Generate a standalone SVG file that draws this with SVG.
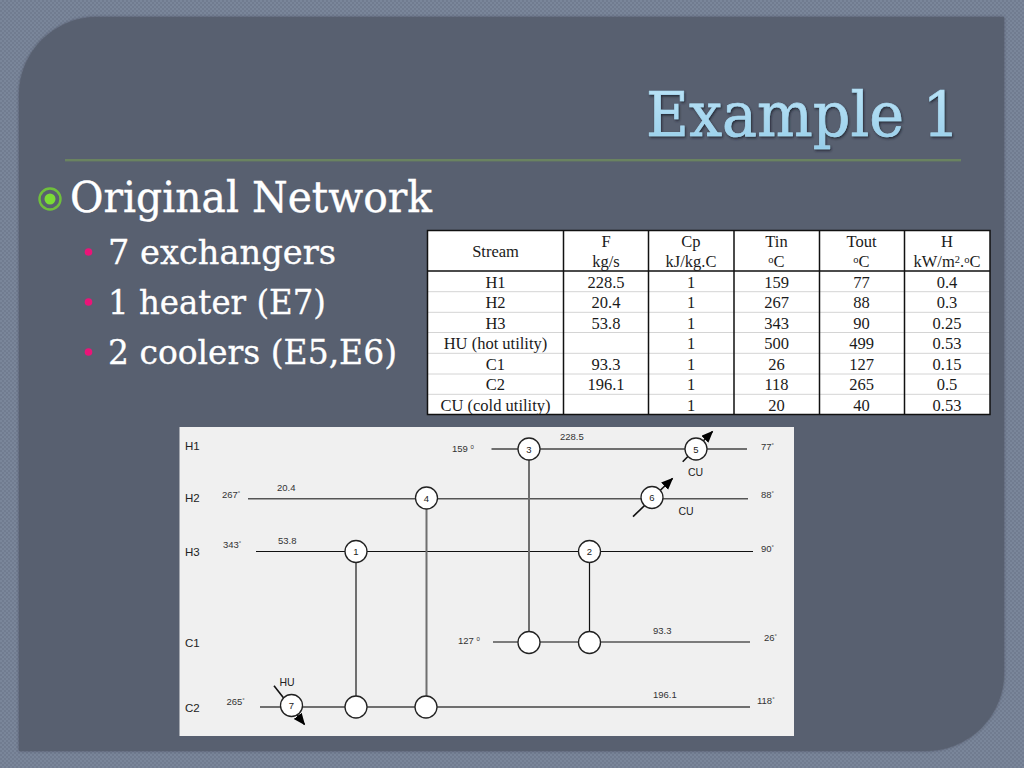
<svg xmlns="http://www.w3.org/2000/svg" width="1024" height="768" viewBox="0 0 1024 768">
<style>
.ttl{font-family:"DejaVu Serif",serif;font-size:62px;fill:url(#tg);stroke:#a9d9f1;stroke-width:0.7;filter:url(#ts)}
.b1{font-family:"DejaVu Serif",serif;font-size:42px;fill:#fff;stroke:#fff;stroke-width:0.4}
.b2{font-family:"DejaVu Serif",serif;font-size:33px;fill:#fff;stroke:#fff;stroke-width:0.3}
.tb{font-family:"Liberation Serif",serif;font-size:16.5px;fill:#1a1a1a;text-anchor:middle}
.sup{font-size:10.5px}
.lab{font-family:"Liberation Sans",sans-serif;font-size:11.5px;fill:#222}
.num{font-family:"Liberation Sans",sans-serif;font-size:9.5px;fill:#333}
.deg{font-size:6px}
.nid{font-family:"Liberation Sans",sans-serif;font-size:9.5px;fill:#222;text-anchor:middle}
.s{fill:none;stroke:#6f6f6f;stroke-width:2}
.d{fill:none;stroke:#555;stroke-width:1.5}
.k{fill:none;stroke:#111;stroke-width:1.2}
.ar{fill:none;stroke:#111;stroke-width:1.6;marker-end:url(#ah)}
.c{fill:#fff;stroke:#222;stroke-width:1.3}
.tl{stroke:#111;stroke-width:1.5;fill:none}
.ti{stroke:#d4d4d4;stroke-width:1;fill:none}
</style>
<defs>
<pattern id="dith" width="4" height="4" patternUnits="userSpaceOnUse">
<rect width="4" height="4" fill="#717c90"/>
<rect width="2" height="2" fill="#7a869a"/>
<rect x="2" y="2" width="2" height="2" fill="#7a869a"/>
</pattern>
<linearGradient id="tg" x1="0" y1="0" x2="0" y2="1">
<stop offset="0" stop-color="#bfe6f8"/><stop offset="1" stop-color="#96cdea"/>
</linearGradient>
<filter id="ts" x="-5%" y="-10%" width="110%" height="125%">
<feDropShadow dx="1" dy="1.5" stdDeviation="0.8" flood-color="#1c2430" flood-opacity="0.9"/>
</filter>
<filter id="ps" x="-3%" y="-3%" width="106%" height="106%">
<feDropShadow dx="0" dy="0" stdDeviation="1.5" flood-color="#3a4150" flood-opacity="0.7"/>
</filter>
<marker id="ah" markerWidth="14" markerHeight="12" refX="11" refY="5" orient="auto" markerUnits="userSpaceOnUse">
<path d="M0 0L12 5L0 10Z" fill="#000"/>
</marker>
</defs>
<rect id="background" width="1024" height="768" fill="url(#dith)"/>
<path id="panel" d="M97 17H1004V673A78 78 0 0 1 926 751H19V95A78 78 0 0 1 97 17Z" fill="#596070" filter="url(#ps)"/>
<text class="ttl" x="646" y="136" textLength="314" lengthAdjust="spacingAndGlyphs">Example 1</text>
<rect id="rule" x="65" y="159" width="896" height="2.4" fill="#6a8360"/>
<g id="bullets">
<circle cx="50" cy="199" r="10.5" fill="none" stroke="#6fbf3c" stroke-width="2.4"/>
<circle cx="50" cy="199" r="5.5" fill="#7bdc35"/>
<circle cx="88.500" cy="252" r="3.800" fill="#ea1478"/>
<circle cx="88.500" cy="302" r="3.800" fill="#ea1478"/>
<circle cx="88.500" cy="352" r="3.800" fill="#ea1478"/>
</g>
<text class="b1" x="70" y="212" textLength="362" lengthAdjust="spacingAndGlyphs">Original Network</text>
<text class="b2" x="108" y="264" textLength="228" lengthAdjust="spacingAndGlyphs">7 exchangers</text>
<text class="b2" x="108" y="314" textLength="218" lengthAdjust="spacingAndGlyphs">1 heater (E7)</text>
<text class="b2" x="108" y="364" textLength="289" lengthAdjust="spacingAndGlyphs">2 coolers (E5,E6)</text>

<g id="table">
<rect x="427.5" y="230" width="562.5" height="184.5" fill="#fff"/>
<path class="ti" d="M427 291.700H990M427 312.300H990M427 332.500H990M427 353.300H990M427 374H990M427 394.300H990"/>
<path class="tl" d="M427.5 230.5H990V414.500H427.500ZM427.500 271H990M563.500 230V415M648.500 230V415M734 230V415M819.500 230V415M904.500 230V415"/>
<text class="tb" x="495.5" y="257">Stream</text>
<text class="tb" x="606" y="246.5">F</text><text class="tb" x="606" y="267">kg/s</text>
<text class="tb" x="691" y="246.5">Cp</text><text class="tb" x="691" y="267">kJ/kg.C</text>
<text class="tb" x="776.5" y="246.5">Tin</text><text class="tb" x="776.5" y="267"><tspan class="sup" dy="-4">o</tspan><tspan dy="4">C</tspan></text>
<text class="tb" x="861.5" y="246.5">Tout</text><text class="tb" x="861.5" y="267"><tspan class="sup" dy="-4">o</tspan><tspan dy="4">C</tspan></text>
<text class="tb" x="947" y="246.5">H</text><text class="tb" x="947" y="267">kW/m<tspan class="sup" dy="-4">2</tspan><tspan dy="4">.</tspan><tspan class="sup" dy="-4">o</tspan><tspan dy="4">C</tspan></text>

<text class="tb" x="495.5" y="287.500">H1</text><text class="tb" x="606" y="287.500">228.5</text><text class="tb" x="691" y="287.500">1</text><text class="tb" x="776.5" y="287.500">159</text><text class="tb" x="861.5" y="287.500">77</text><text class="tb" x="947" y="287.500">0.4</text>
<text class="tb" x="495.5" y="308">H2</text><text class="tb" x="606" y="308">20.4</text><text class="tb" x="691" y="308">1</text><text class="tb" x="776.5" y="308">267</text><text class="tb" x="861.5" y="308">88</text><text class="tb" x="947" y="308">0.3</text>
<text class="tb" x="495.5" y="328.500">H3</text><text class="tb" x="606" y="328.500">53.8</text><text class="tb" x="691" y="328.500">1</text><text class="tb" x="776.5" y="328.500">343</text><text class="tb" x="861.5" y="328.500">90</text><text class="tb" x="947" y="328.500">0.25</text>
<text class="tb" x="495.5" y="349">HU (hot utility)</text><text class="tb" x="691" y="349">1</text><text class="tb" x="776.5" y="349">500</text><text class="tb" x="861.5" y="349">499</text><text class="tb" x="947" y="349">0.53</text>
<text class="tb" x="495.5" y="369.500">C1</text><text class="tb" x="606" y="369.500">93.3</text><text class="tb" x="691" y="369.500">1</text><text class="tb" x="776.5" y="369.500">26</text><text class="tb" x="861.5" y="369.500">127</text><text class="tb" x="947" y="369.500">0.15</text>
<text class="tb" x="495.5" y="390">C2</text><text class="tb" x="606" y="390">196.1</text><text class="tb" x="691" y="390">1</text><text class="tb" x="776.5" y="390">118</text><text class="tb" x="861.5" y="390">265</text><text class="tb" x="947" y="390">0.5</text>
<text class="tb" x="495.5" y="410.500">CU (cold utility)</text><text class="tb" x="691" y="410.500">1</text><text class="tb" x="776.5" y="410.500">20</text><text class="tb" x="861.5" y="410.500">40</text><text class="tb" x="947" y="410.500">0.53</text>
</g>

<rect id="network-bg" x="179.5" y="427" width="614.5" height="309" fill="#f0f0f0"/>
<g id="connectors">
<path class="s" d="M491.5 449H747"/>
<path class="d" d="M248 498.700H748"/>
<path class="k" d="M256 551.500H753"/>
<path class="d" d="M493 642H750"/>
<path class="s" d="M260 707H750"/>
<path class="s" d="M356 551V707M426.500 498V707M529 449V642"/>
<path class="k" d="M589.500 551V642"/>
<path class="ar" d="M682.700 461.700L712.500 431.500"/>
<path class="ar" d="M633 516.700L672.500 478.500"/>
<path class="ar" d="M274 685.700L304.500 724.500"/>
</g>
<g id="node-1"><circle class="c" cx="356" cy="551.500" r="11"/><text class="nid" x="356" y="555">1</text></g>
<g id="node-2"><circle class="c" cx="589.500" cy="551.500" r="11"/><text class="nid" x="589.500" y="555">2</text></g>
<g id="node-3"><circle class="c" cx="529" cy="449" r="11"/><text class="nid" x="529" y="452.500">3</text></g>
<g id="node-4"><circle class="c" cx="426.500" cy="498" r="11"/><text class="nid" x="426.500" y="501.500">4</text></g>
<g id="node-5"><circle class="c" cx="696" cy="449" r="11"/><text class="nid" x="696" y="452.500">5</text></g>
<g id="node-6"><circle class="c" cx="652" cy="497.500" r="11"/><text class="nid" x="652" y="501">6</text></g>
<g id="node-7"><circle class="c" cx="291.500" cy="705.500" r="11"/><text class="nid" x="291.500" y="709">7</text></g>
<g id="node-c2-1"><circle class="c" cx="356" cy="707" r="11"/></g>
<g id="node-c2-4"><circle class="c" cx="426" cy="707" r="11"/></g>
<g id="node-c1-3"><circle class="c" cx="529" cy="642.500" r="11"/></g>
<g id="node-c1-2"><circle class="c" cx="589.500" cy="642.500" r="11"/></g>
<g id="labels">
<text class="lab" x="185" y="450">H1</text><text class="lab" x="185" y="502">H2</text><text class="lab" x="185" y="556">H3</text><text class="lab" x="185" y="647">C1</text><text class="lab" x="185" y="712">C2</text>
<text class="lab" x="688" y="476" style="font-size:10.5px">CU</text><text class="lab" x="678.500" y="515" style="font-size:10.5px">CU</text><text class="lab" x="279.500" y="686" style="font-size:10.5px">HU</text>
<text class="num" x="452" y="452">159 <tspan class="deg" dy="-3">0</tspan></text>
<text class="num" x="458" y="644">127 <tspan class="deg" dy="-3">0</tspan></text>
<text class="num" x="222" y="498">267<tspan class="deg" dy="-3">°</tspan></text>
<text class="num" x="223" y="548">343<tspan class="deg" dy="-3">°</tspan></text>
<text class="num" x="226.500" y="705">265<tspan class="deg" dy="-3">°</tspan></text>
<text class="num" x="761" y="450">77<tspan class="deg" dy="-3">°</tspan></text>
<text class="num" x="761" y="498">88<tspan class="deg" dy="-3">°</tspan></text>
<text class="num" x="761" y="552">90<tspan class="deg" dy="-3">°</tspan></text>
<text class="num" x="764" y="641">26<tspan class="deg" dy="-3">°</tspan></text>
<text class="num" x="757" y="704">118<tspan class="deg" dy="-3">°</tspan></text>
<text class="num" x="277" y="491">20.4</text><text class="num" x="278" y="544">53.8</text>
<text class="num" x="560" y="440">228.5</text><text class="num" x="653" y="634">93.3</text><text class="num" x="653" y="698">196.1</text>
</g>
</svg>
